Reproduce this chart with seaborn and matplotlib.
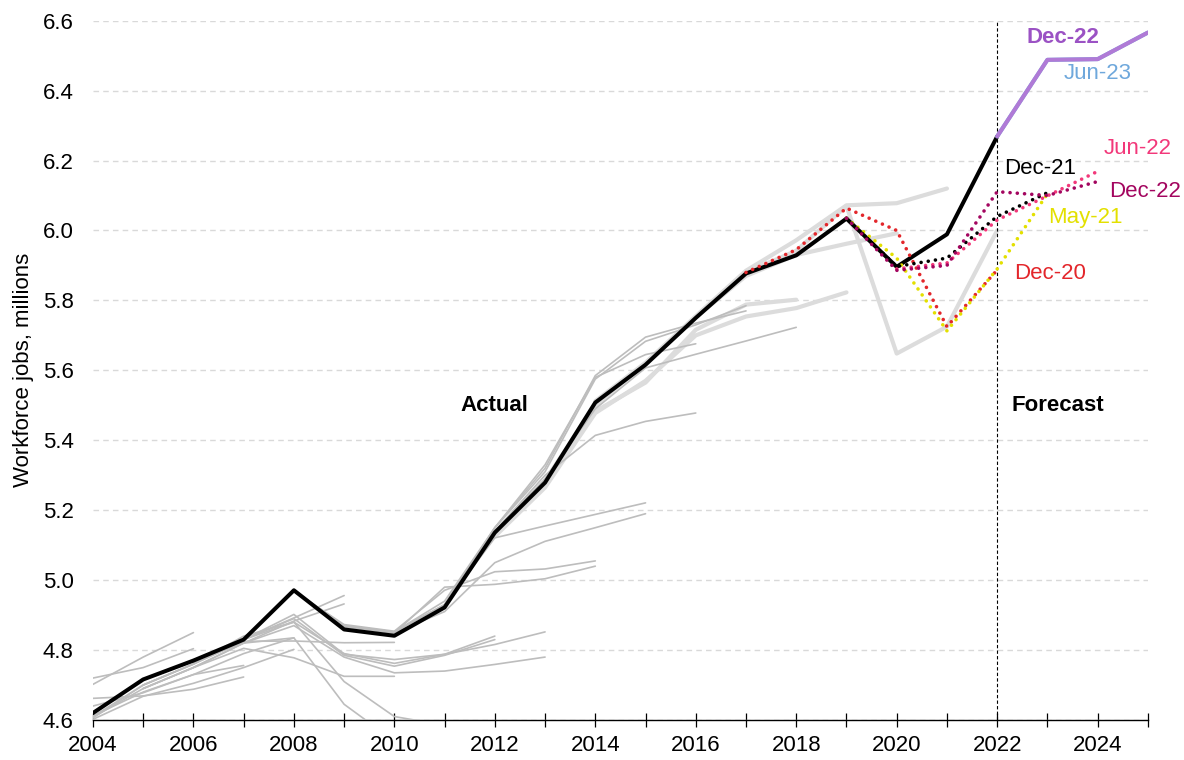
import matplotlib
matplotlib.use("Agg")
import matplotlib.pyplot as plt
import seaborn as sns
from matplotlib.ticker import MultipleLocator, FormatStrFormatter

# Outturn (workforce jobs, millions)
actual_start = 2004
actual_jobs = [4.620, 4.716, 4.770, 4.830, 4.971, 4.859, 4.841, 4.922, 5.136,
               5.279, 5.508, 5.616, 5.750, 5.877, 5.929, 6.034, 5.896, 5.989, 6.269]

# Latest forecast, continuing from the last outturn
latest_start = 2022
latest_jobs = [6.269, 6.488, 6.490, 6.566]

# Recent forecast vintages (dotted)
dec20_start, dec20_jobs = 2017, [5.880, 5.945, 6.064, 6.000, 5.725, 5.887]
may21_start, may21_jobs = 2019, [6.035, 5.921, 5.713, 5.890, 6.105]
dec21_start, dec21_jobs = 2019, [6.035, 5.897, 5.921, 6.040, 6.108]
jun22_start, jun22_jobs = 2020, [5.890, 5.907, 6.030, 6.099, 6.169]
dec22_start, dec22_jobs = 2019, [6.035, 5.886, 5.900, 6.111, 6.100, 6.140]

# Older forecast vintages (thin grey): (first year, values)
old_vintages = [
    (2004, [4.702, 4.780, 4.850]),
    (2004, [4.720, 4.750, 4.804]),
    (2004, [4.640, 4.678, 4.730, 4.756]),
    (2004, [4.662, 4.669, 4.688, 4.723]),
    (2004, [4.612, 4.680, 4.730, 4.790, 4.835]),
    (2004, [4.602, 4.668, 4.705, 4.750, 4.802]),
    (2004, [4.610, 4.700, 4.760, 4.830, 4.892, 4.956]),
    (2004, [4.608, 4.690, 4.750, 4.820, 4.883, 4.932]),
    (2004, [4.606, 4.700, 4.760, 4.825, 4.826, 4.821, 4.822]),
    (2005, [4.690, 4.750, 4.805, 4.778, 4.725, 4.725]),
    (2005, [4.700, 4.760, 4.840, 4.880, 4.710, 4.610, 4.585]),
    (2005, [4.690, 4.750, 4.820, 4.835, 4.645, 4.540]),
    (2006, [4.765, 4.830, 4.902, 4.788, 4.773, 4.788, 4.840]),
    (2006, [4.765, 4.830, 4.890, 4.785, 4.754, 4.785, 4.830]),
    (2006, [4.770, 4.830, 4.880, 4.790, 4.762, 4.788, 4.816, 4.852]),
    (2006, [4.770, 4.820, 4.870, 4.780, 4.735, 4.740, 4.759, 4.780]),
    (2007, [4.830, 4.968, 4.873, 4.854, 4.971, 5.024, 5.032, 5.055]),
    (2007, [4.830, 4.968, 4.866, 4.848, 4.980, 4.988, 5.004, 5.040]),
    (2008, [4.970, 4.870, 4.852, 4.930, 5.121, 5.155, 5.188, 5.221]),
    (2008, [4.970, 4.868, 4.850, 4.910, 5.050, 5.111, 5.150, 5.190]),
    (2010, [4.852, 4.930, 5.140, 5.300, 5.414, 5.454, 5.478]),
    (2010, [4.852, 4.940, 5.150, 5.330, 5.580, 5.645, 5.676]),
    (2011, [4.930, 5.150, 5.320, 5.585, 5.695, 5.735, 5.770]),
    (2011, [4.930, 5.150, 5.310, 5.575, 5.683, 5.730, 5.785]),
    (2012, [5.140, 5.290, 5.490, 5.607, 5.646, 5.684, 5.723]),
]

# More recent vintages (thick light grey)
recent_vintages = [
    (2012, [5.130, 5.270, 5.483, 5.565, 5.716, 5.788, 5.802]),
    (2012, [5.125, 5.265, 5.478, 5.570, 5.700, 5.754, 5.778, 5.823]),
    (2013, [5.285, 5.500, 5.620, 5.752, 5.870, 5.930, 5.962, 5.992]),
    (2014, [5.512, 5.622, 5.755, 5.885, 5.972, 6.072, 6.078, 6.120]),
    (2015, [5.620, 5.752, 5.880, 5.942, 6.070, 5.648, 5.725, 6.000]),
]

x_ticks = list(range(2004, 2026, 2))
y_ticks = [4.6, 4.8, 5.0, 5.2, 5.4, 5.6, 5.8, 6.0, 6.2, 6.4, 6.6]

sns.set_theme(style="white")
plt.rcParams["font.family"] = ["Liberation Sans", "DejaVu Sans"]
plt.rcParams.update({
    "text.color": "black",
    "axes.labelcolor": "black",
    "xtick.color": "black",
    "ytick.color": "black",
})

fig = plt.figure(figsize=(11.84, 7.6), dpi=100)
ax = fig.add_axes([0.0785, 0.0526, 0.891, 0.9202])


def years_for(start, vals):
    return list(range(start, start + len(vals)))


def draw(start, vals, **kw):
    sns.lineplot(x=years_for(start, vals), y=vals, ax=ax, estimator=None,
                 sort=False, legend=False, **kw)


for start, vals in recent_vintages:
    draw(start, vals, color="#dcdcdc", linewidth=3.0, zorder=2)
for start, vals in old_vintages:
    draw(start, vals, color="#bdbdbd", linewidth=1.2, zorder=3)

draw(actual_start, actual_jobs, color="black", linewidth=2.9, zorder=5)
draw(latest_start, latest_jobs, color="#6fa8dc", linewidth=2.9, zorder=5)
draw(latest_start, latest_jobs, color="#b07ad6", linewidth=2.9, zorder=6)

dot = dict(linewidth=2.6, linestyle=(0, (0.01, 2.0)), dash_capstyle="round", zorder=7)
draw(dec20_start, dec20_jobs, color="#e3262b", **dot)
draw(may21_start, may21_jobs, color="#e3e000", **dot)
draw(dec21_start, dec21_jobs, color="black", **dot)
draw(jun22_start, jun22_jobs, color="#f2387a", **dot)
draw(dec22_start, dec22_jobs, color="#a3055f", **dot)

ax.axvline(2022, color="black", linewidth=0.8, linestyle=(0, (3, 2)), zorder=4)

# Axes styling
ax.set_xlim(2004, 2025)
ax.set_ylim(4.6, 6.6)
ax.set_yticks(y_ticks)
ax.yaxis.set_major_formatter(FormatStrFormatter("%.1f"))
ax.set_xticks(x_ticks)
ax.xaxis.set_minor_locator(MultipleLocator(1))
ax.grid(axis="y", color="#d9d9d9", linewidth=1.0, linestyle=(0, (4, 3)), zorder=0)
ax.grid(axis="x", visible=False)
for side in ("left", "right", "top"):
    ax.spines[side].set_visible(False)
ax.spines["bottom"].set_color("black")
ax.spines["bottom"].set_linewidth(1.0)
ax.tick_params(axis="x", which="both", direction="inout", length=10, width=0.9,
               color="black", labelcolor="black", labelsize=16, pad=6, bottom=True)
ax.tick_params(axis="y", length=0, labelsize=16, labelcolor="black", pad=14)
ax.set_xlabel("")
ax.set_ylabel("Workforce jobs, millions", fontsize=16, labelpad=6, color="black")

# Annotations
ax.text(2012.0, 5.50, "Actual", fontsize=16, fontweight="bold", ha="center", va="center")
ax.text(2023.2, 5.50, "Forecast", fontsize=16, fontweight="bold", ha="center", va="center")
labels = [
    (2023.3, 6.552, "Dec-22", "#9b52c4", "bold"),
    (2024.0, 6.448, "Jun-23", "#6fa8dc", "normal"),
    (2024.8, 6.235, "Jun-22", "#f2387a", "normal"),
    (2022.85, 6.178, "Dec-21", "black", "normal"),
    (2024.95, 6.112, "Dec-22", "#a3055f", "normal"),
    (2023.75, 6.036, "May-21", "#e3e000", "normal"),
    (2023.05, 5.878, "Dec-20", "#e3262b", "normal"),
]
for x, y, s, c, w in labels:
    ax.text(x, y, s, color=c, fontsize=16, fontweight=w, ha="center", va="center", zorder=8)

fig.savefig("out.png", dpi=100)
